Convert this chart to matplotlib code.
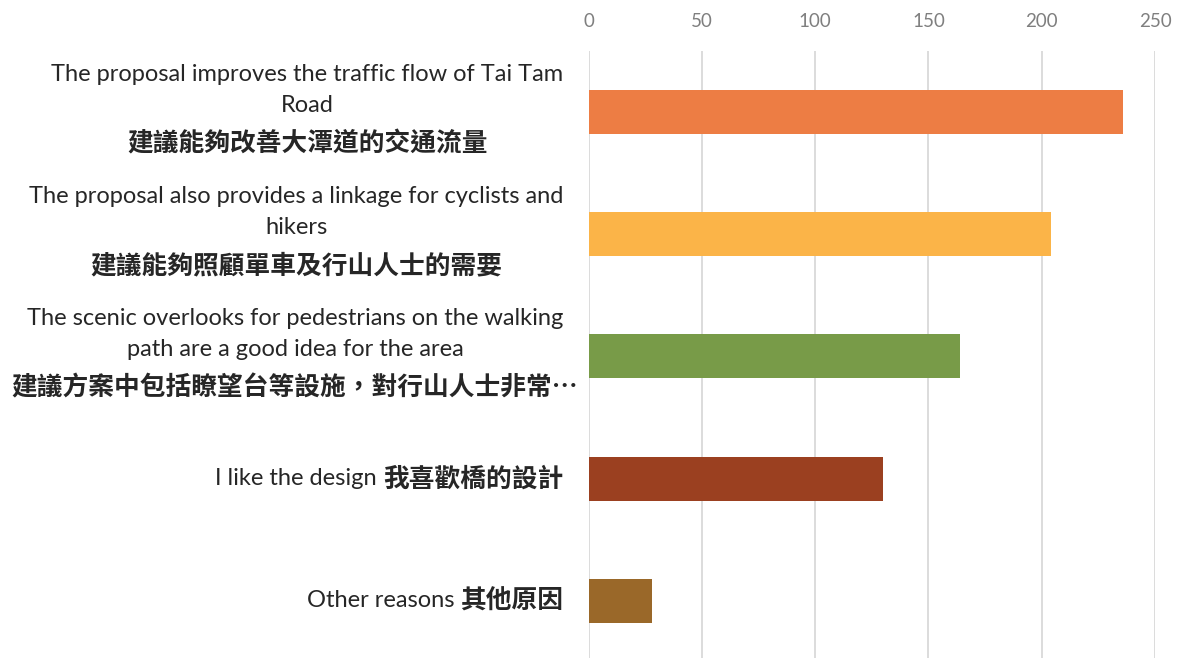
import matplotlib.pyplot as plt
import matplotlib.transforms as mtransforms

# survey answers (English / Chinese) and counts
labels_en = [
    "The proposal improves the traffic flow of Tai Tam\nRoad",
    "The proposal also provides a linkage for cyclists and\nhikers",
    "The scenic overlooks for pedestrians on the walking\npath are a good idea for the area",
    "I like the design",
    "Other reasons",
]
labels_zh = [
    "建議能夠改善大潭道的交通流量",
    "建議能夠照顧單車及行山人士的需要",
    "建議方案中包括瞭望台等設施，對行山人士非常…",
    "我喜歡橋的設計",
    "其他原因",
]
counts = [236, 204, 164, 130, 28]
bar_colors = ["#ED7D44", "#FBB448", "#789B48", "#9B4020", "#9A6829"]
xticks = [0, 50, 100, 150, 200, 250]

en_font = "Lato"
zh_font = ["Noto Sans CJK TC", "DejaVu Sans"]
text_color = "#262626"

fig = plt.figure(figsize=(11.77, 6.58), dpi=100)
ax = fig.add_axes([588.7 / 1177, -0.0062, 566.3 / 1177, 0.929])

ypos = list(range(len(counts)))
ax.barh(ypos, counts, height=0.36, color=bar_colors, zorder=3)

ax.set_xlim(0, 250)
ax.set_ylim(len(counts) - 0.5, -0.5)
ax.set_xticks(xticks)
ax.xaxis.tick_top()
ax.tick_params(axis="x", length=0, pad=15, labelsize=13.5, labelcolor="#7F7F7F")
for t in ax.get_xticklabels():
    t.set_fontfamily(en_font)
ax.set_yticks([])
ax.grid(axis="x", color="#D9D9D9", linewidth=1.3, zorder=0)
for s in ax.spines.values():
    s.set_visible(False)

trans = mtransforms.blended_transform_factory(ax.transAxes, ax.transData)
lx = -0.045

for y, en, zh in zip(ypos, labels_en, labels_zh):
    if "\n" in en:
        # two english lines, chinese line centred underneath
        t_en = ax.annotate(en, xy=(lx, y), xycoords=trans, xytext=(0, 16),
                           textcoords="offset points", ha="right", va="center",
                           multialignment="center", fontsize=17,
                           family=en_font, color=text_color, linespacing=1.6,
                           annotation_clip=False)
        ax.annotate(zh, xy=(0.5, y), xycoords=(t_en, trans), xytext=(0, -23),
                    textcoords="offset points", ha="center", va="center",
                    fontsize=18.5, family=zh_font, weight="bold",
                    color=text_color, annotation_clip=False)
    else:
        t_zh = ax.annotate(zh, xy=(lx, y), xycoords=trans, ha="right",
                           va="center", fontsize=18.5, family=zh_font,
                           weight="bold", color=text_color,
                           annotation_clip=False)
        ax.annotate(en + " ", xy=(0, 0.5), xycoords=t_zh, ha="right",
                    va="center", fontsize=17, family=en_font,
                    color=text_color, annotation_clip=False)

fig.savefig("out.png", dpi=100)
